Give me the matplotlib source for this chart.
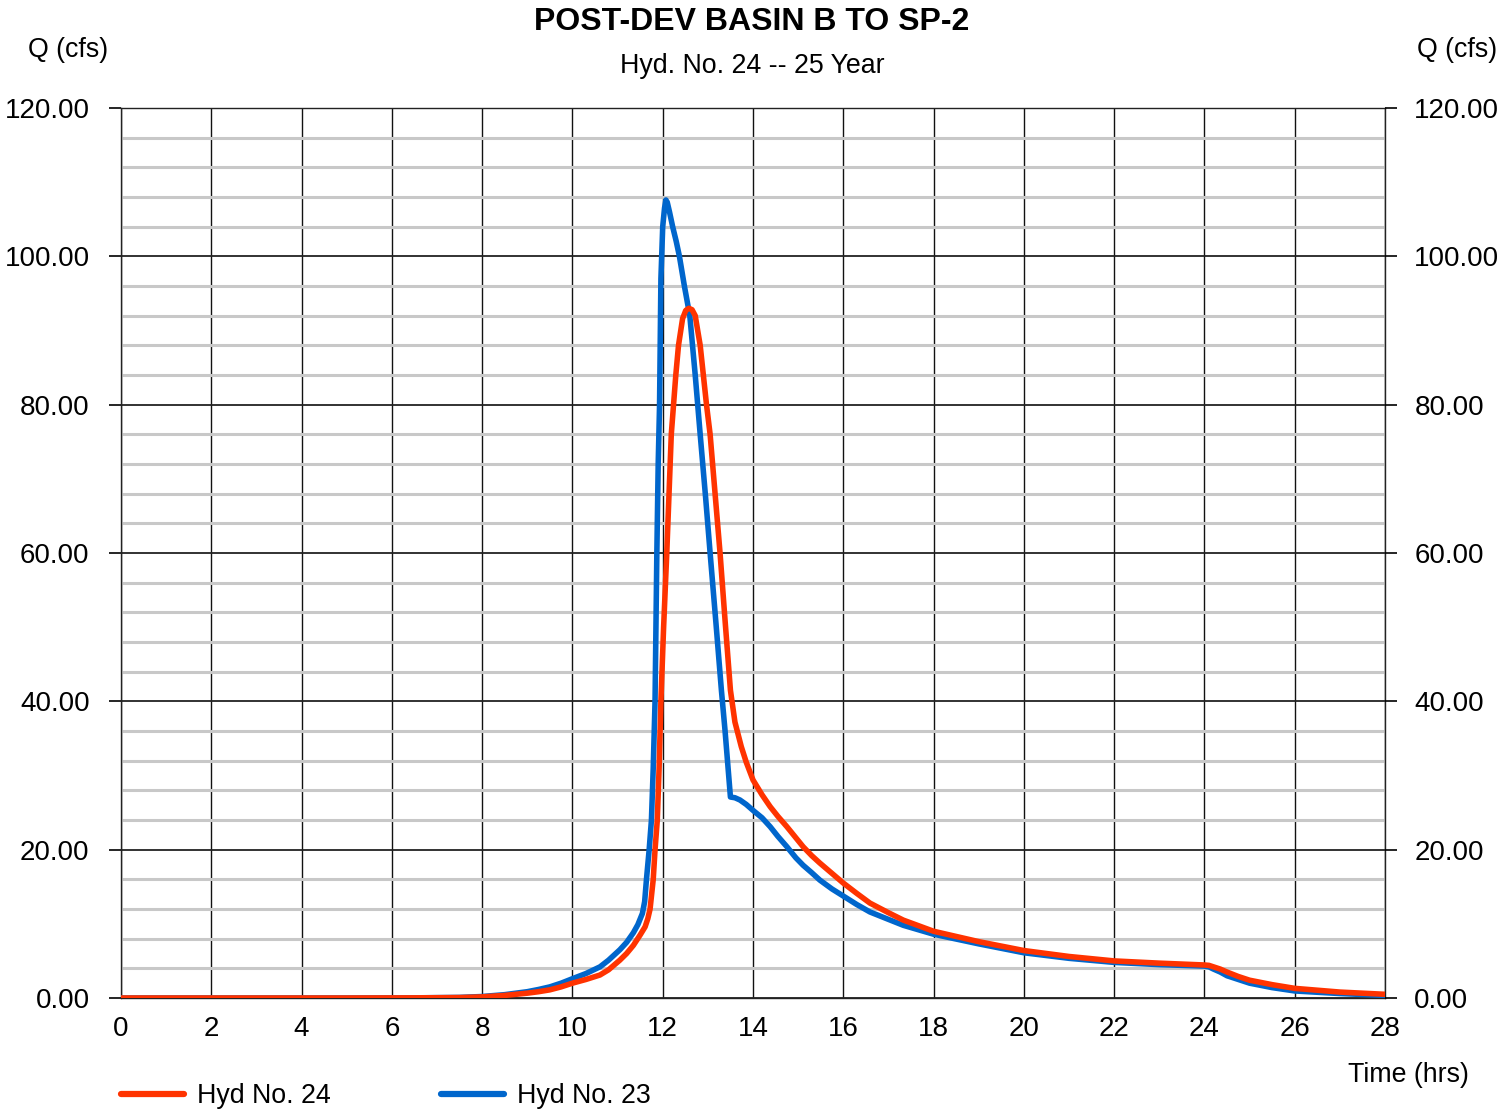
import matplotlib
matplotlib.use("Agg")
import matplotlib.pyplot as plt
from matplotlib.lines import Line2D

plt.rcParams['font.family'] = ['Liberation Sans', 'DejaVu Sans']

# ---- data ----
t23 = [0, 5, 6.5, 7.5, 8, 8.5, 9, 9.25, 9.5, 9.75, 10, 10.15, 10.3, 10.61, 10.8, 11.05,
       11.2, 11.35, 11.45, 11.55, 11.6, 11.64, 11.7, 11.75, 11.79, 11.83, 11.87, 11.9,
       11.93, 11.96, 11.98, 12.0, 12.04, 12.07, 12.1, 12.15, 12.22, 12.3, 12.37, 12.48,
       12.6, 12.72, 12.83, 12.95, 13.05, 13.18, 13.3, 13.38, 13.5, 13.6, 13.71, 13.85,
       14.0, 14.2, 14.38, 14.55, 14.75, 14.95, 15.11, 15.3, 15.48, 15.75, 16.0, 16.3,
       16.59, 17.0, 17.33, 18.0, 19.0, 20.0, 21.0, 22.0, 23.0, 24.0, 24.1, 24.2, 24.35,
       24.5, 24.75, 25.0, 25.5, 26.0, 27.0, 28.0]
q23 = [0, 0, 0.02, 0.08, 0.2, 0.45, 0.85, 1.15, 1.5, 2.0, 2.6, 2.95, 3.3, 4.2, 5.1, 6.5,
       7.5, 8.8, 9.9, 11.4, 13.0, 16.0, 20.0, 24.0, 31.0, 40.0, 60.0, 72.0,
       80.0, 97.0, 100.5, 104.0, 106.5, 107.6, 107.3, 106.0, 104.0, 102.0, 100.0, 96.0,
       92.0, 84.0, 76.0, 67.5, 60.0, 50.5, 41.5, 36.1, 27.1, 27.0, 26.7, 26.1,
       25.3, 24.3, 23.1, 21.8, 20.4, 18.9, 17.9, 16.9, 15.9, 14.7, 13.75, 12.6,
       11.6, 10.6, 9.8, 8.6, 7.3, 6.1, 5.35, 4.8, 4.5, 4.3, 4.2, 3.9, 3.5,
       3.0, 2.5, 2.0, 1.4, 0.95, 0.6, 0.35]

t24 = [0, 5, 6.5, 7.5, 8, 8.5, 9, 9.25, 9.5, 9.75, 10, 10.15, 10.3, 10.61, 10.8, 11.05,
       11.2, 11.35, 11.5, 11.61, 11.67, 11.72, 11.79, 11.83, 11.88, 11.92, 11.96, 12.02,
       12.09, 12.14, 12.19, 12.24, 12.29, 12.35, 12.44, 12.51, 12.58, 12.65, 12.72, 12.83,
       12.9, 12.97, 13.05, 13.16, 13.27, 13.38, 13.5, 13.6, 13.74, 13.85, 14.0, 14.2,
       14.38, 14.55, 14.75, 14.95, 15.11, 15.3, 15.48, 15.75, 16.0, 16.3, 16.59, 17.0,
       17.33, 18.0, 19.0, 20.0, 21.0, 22.0, 23.0, 24.0, 24.1, 24.2, 24.35, 24.5, 24.75,
       25.0, 25.5, 26.0, 27.0, 28.0]
q24 = [0, 0, 0.02, 0.06, 0.15, 0.35, 0.65, 0.85, 1.1, 1.5, 2.0, 2.25, 2.5, 3.1, 3.8, 5.1,
       6.0, 7.1, 8.5, 9.6, 10.7, 12.0, 16.0, 20.0, 24.0, 31.0, 40.0, 50.0,
       60.0, 68.0, 76.0, 80.0, 84.0, 88.0, 91.6, 92.7, 93.0, 92.8, 92.0, 88.0,
       84.0, 80.0, 76.0, 68.0, 60.0, 51.0, 41.5, 37.2, 33.9, 31.8, 29.4, 27.4,
       25.8, 24.5, 23.1, 21.6, 20.4, 19.2, 18.2, 16.8, 15.5, 14.1, 12.8, 11.5,
       10.5, 9.0, 7.6, 6.4, 5.6, 5.0, 4.7, 4.45, 4.4, 4.2, 3.9, 3.5, 2.9,
       2.4, 1.8, 1.3, 0.8, 0.5]

x_ticks = list(range(0, 29, 2))
y_major = [0, 20, 40, 60, 80, 100, 120]
y_minor = [v for v in range(0, 121, 4) if v % 20 != 0]

title = "POST-DEV BASIN B TO SP-2"
subtitle = "Hyd. No. 24 -- 25 Year"
label23 = "Hyd No. 23"
label24 = "Hyd No. 24"

RED = "#FF3300"
BLUE = "#0066CC"

W, H = 1502, 1110
fig = plt.figure(figsize=(W / 100, H / 100), dpi=100)
ax = fig.add_axes([121 / W, 1 - 998 / H, (1385 - 121) / W, (998 - 108) / H])

ax.set_xlim(0, 28)
ax.set_ylim(0, 120)
ax.set_xticks(x_ticks)
ax.set_yticks(y_major)
ax.set_yticks(y_minor, minor=True)
ax.set_yticklabels([f"{v:.2f}" for v in y_major])

ax.grid(which='minor', axis='y', color='#c8c8c8', lw=2.2, zorder=0)
ax.grid(which='major', axis='y', color='#222222', lw=1.3, zorder=1)
ax.grid(which='major', axis='x', color='#111111', lw=1.0, zorder=1)
ax.set_axisbelow(True)
for s in ax.spines.values():
    s.set_color('#222222')
    s.set_linewidth(1.0)

ax.tick_params(axis='y', which='major', length=8.6, width=1.2, direction='out',
               labelsize=20, pad=14, colors='black')
ax.tick_params(axis='y', which='minor', length=0)
ax.tick_params(axis='x', length=0, labelsize=20, pad=13)

ax.plot(t23, q23, color=BLUE, lw=4.0, solid_capstyle='round', solid_joinstyle='round', zorder=3)
ax.plot(t24, q24, color=RED, lw=4.0, solid_capstyle='round', solid_joinstyle='round', zorder=4)

ax2 = ax.twinx()
ax2.set_ylim(0, 120)
ax2.set_yticks(y_major)
ax2.set_yticklabels([f"{v:.2f}" for v in y_major])
ax2.tick_params(axis='y', length=8.6, width=1.2, direction='out', labelsize=20, pad=12.5)
for s in ax2.spines.values():
    s.set_visible(False)

fig.text(752 / W, 1 - 22 / H, title, ha='center', va='center', fontsize=23, fontweight='bold')
fig.text(752 / W, 1 - 66 / H, subtitle, ha='center', va='center', fontsize=19.3)
fig.text(28 / W, 1 - 50 / H, "Q (cfs)", ha='left', va='center', fontsize=19.3)
fig.text(1497 / W, 1 - 50 / H, "Q (cfs)", ha='right', va='center', fontsize=19.3)
fig.text(1469 / W, 1 - 1075 / H, "Time (hrs)", ha='right', va='center', fontsize=19.3)

handles = [Line2D([0], [0], color=RED, lw=4.5, solid_capstyle='round'),
           Line2D([0], [0], color=BLUE, lw=4.5, solid_capstyle='round')]
fig.legend(handles, [label24, label23], ncol=2, loc='center left',
           bbox_to_anchor=(121 / W, 1 - 1096 / H), frameon=False, fontsize=19.3,
           handlelength=2.35, handletextpad=0.5, columnspacing=4.1,
           borderpad=0, borderaxespad=0)

fig.savefig("out.png", dpi=100)
